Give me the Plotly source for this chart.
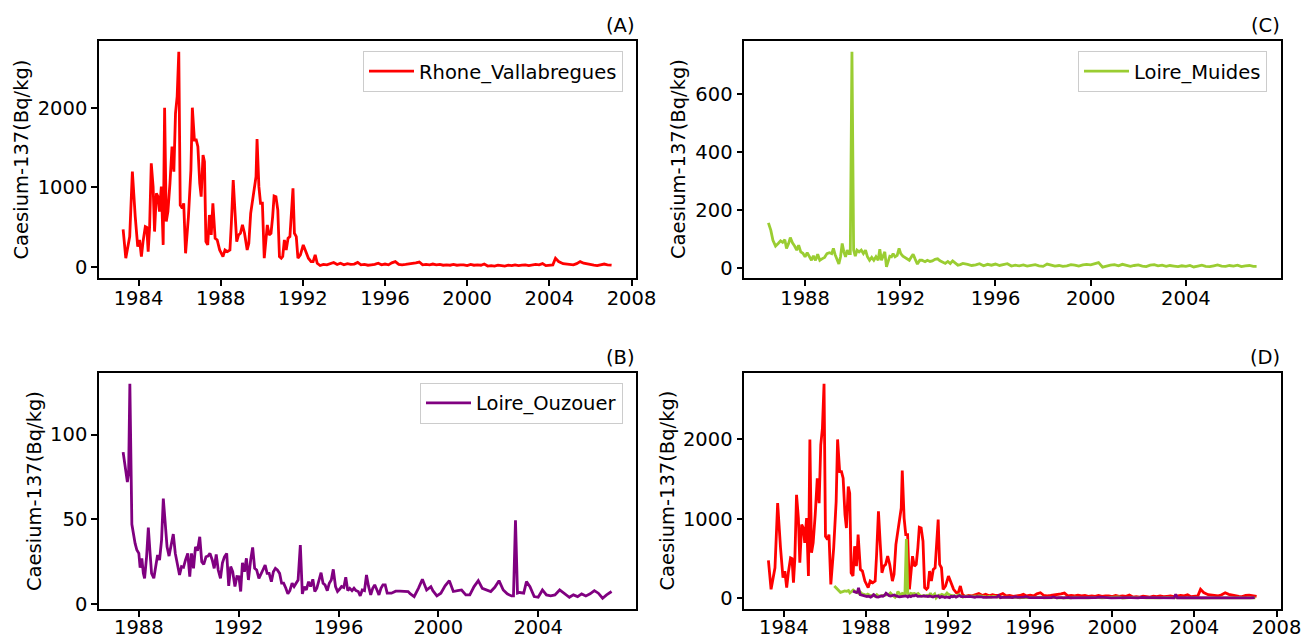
import plotly.graph_objects as go

# ---------------- data ----------------
rhone_t = [1983.25, 1983.38, 1983.57, 1983.70, 1983.84, 1983.96, 1984.05, 1984.14, 1984.22, 1984.33,
           1984.40, 1984.47, 1984.54, 1984.62, 1984.71, 1984.78, 1984.87, 1984.95, 1985.02, 1985.11,
           1985.20, 1985.27, 1985.35, 1985.43, 1985.53, 1985.63, 1985.72, 1985.80, 1985.88, 1985.96,
           1986.03, 1986.13, 1986.20, 1986.29, 1986.43, 1986.55, 1986.62, 1986.72, 1986.81, 1986.89,
           1986.98, 1987.05, 1987.14, 1987.21, 1987.28, 1987.37, 1987.45, 1987.54, 1987.62, 1987.73,
           1987.83, 1987.95, 1988.11, 1988.21, 1988.33, 1988.45, 1988.52, 1988.61, 1988.70, 1988.78,
           1988.87, 1988.96, 1989.06, 1989.16, 1989.29, 1989.37, 1989.46, 1989.56, 1989.65, 1989.72,
           1989.77, 1989.86, 1989.94, 1990.03, 1990.12, 1990.21, 1990.27, 1990.36, 1990.45, 1990.53,
           1990.60, 1990.69, 1990.78, 1990.86, 1990.95, 1991.02, 1991.10, 1991.19, 1991.28, 1991.37,
           1991.45, 1991.52, 1991.59, 1991.68, 1991.76, 1991.88, 1992.02, 1992.14, 1992.27, 1992.40,
           1992.50, 1992.60, 1992.70, 1992.84,
           1993.00, 1993.17, 1993.33, 1993.50, 1993.67, 1993.83,
           1994.00, 1994.17, 1994.33, 1994.50, 1994.67, 1994.83,
           1995.00, 1995.17, 1995.33, 1995.50, 1995.67, 1995.83,
           1996.00, 1996.17, 1996.33, 1996.50, 1996.67, 1996.83,
           1997.00, 1997.17, 1997.33, 1997.50, 1997.67, 1997.83,
           1998.00, 1998.17, 1998.33, 1998.50, 1998.67, 1998.83,
           1999.00, 1999.17, 1999.33, 1999.50, 1999.67, 1999.83,
           2000.00, 2000.17, 2000.33, 2000.50, 2000.67, 2000.83,
           2001.00, 2001.17, 2001.33, 2001.50, 2001.67, 2001.83,
           2002.00, 2002.17, 2002.33, 2002.50, 2002.67, 2002.83,
           2003.00, 2003.17, 2003.33, 2003.50, 2003.67, 2003.83,
           2004.00, 2004.17, 2004.30, 2004.45, 2004.67, 2004.83,
           2005.00, 2005.17, 2005.33, 2005.50, 2005.67, 2005.83,
           2006.00, 2006.17, 2006.33, 2006.50, 2006.67, 2006.83,
           2007.03]
rhone_v = [476, 113, 384, 1198, 635, 259, 342, 134, 321, 509,
           500, 196, 509, 1303, 1010, 447, 927, 885, 697, 1010,
           280, 2000, 572, 697, 1052, 1511, 1198, 1929, 2138, 2701,
           780, 739, 801, 175, 635, 1219, 2000, 1595, 1595, 1511,
           1052, 885, 1407, 1324, 321, 280, 655, 405, 802, 363,
           342, 217, 134, 217, 196, 217, 551, 1094, 676, 321,
           405, 426, 530, 426, 217, 301, 676, 864, 990, 1136,
           1607, 1010, 802, 802, 113, 384, 530, 405, 426, 635,
           894, 885, 718, 134, 113, 134, 342, 217, 363, 384,
           802, 990, 426, 384, 113, 155, 280, 196, 113, 71,
           71, 155, 50, 21,
           35, 30, 45, 60, 35, 50,
           30, 45, 35, 40, 60, 30,
           35, 25, 30, 35, 50, 30,
           40, 30, 55, 70, 35, 30,
           35, 40, 45, 55, 65, 30,
           35, 30, 40, 30, 35, 25,
           30, 25, 35, 25, 30, 30,
           20, 35, 25, 30, 25, 40,
           15, 20, 15, 25, 20, 15,
           25, 20, 30, 20, 25, 30,
           20, 25, 35, 30, 45, 20,
           25, 30, 112, 72, 45, 40,
           35, 30, 45, 70, 50, 40,
           30, 25, 20, 35, 40, 30,
           25]

muides_t = [1986.46, 1986.56, 1986.65, 1986.76, 1986.87, 1986.97, 1987.06, 1987.15, 1987.22, 1987.30,
            1987.38, 1987.47, 1987.56, 1987.65, 1987.73, 1987.82, 1987.91, 1988.00, 1988.09, 1988.18,
            1988.27, 1988.35, 1988.44, 1988.53, 1988.62, 1988.71, 1988.82, 1988.92, 1989.02, 1989.12,
            1989.19, 1989.26, 1989.35, 1989.42, 1989.49, 1989.56, 1989.63, 1989.70, 1989.77, 1989.84,
            1989.90, 1989.97, 1990.04, 1990.11, 1990.18, 1990.27, 1990.36, 1990.45, 1990.54, 1990.62,
            1990.71, 1990.80, 1990.89, 1990.98, 1991.07, 1991.14, 1991.21, 1991.28, 1991.35, 1991.42,
            1991.49, 1991.56, 1991.63, 1991.70, 1991.78, 1991.87, 1991.95, 1992.02, 1992.11, 1992.20,
            1992.29, 1992.38, 1992.47, 1992.54, 1992.63, 1992.72, 1992.82, 1992.91, 1993.04, 1993.14,
            1993.25, 1993.35, 1993.46, 1993.57, 1993.67, 1993.78, 1993.89, 1994.00, 1994.10, 1994.20,
            1994.31, 1994.42, 1994.52, 1994.63, 1994.83,
            1995.00, 1995.17, 1995.33, 1995.50, 1995.67, 1995.83,
            1996.00, 1996.17, 1996.33, 1996.50, 1996.67, 1996.83,
            1997.00, 1997.17, 1997.33, 1997.50, 1997.67, 1997.83,
            1998.00, 1998.17, 1998.33, 1998.50, 1998.67, 1998.83,
            1999.00, 1999.17, 1999.33, 1999.50, 1999.67, 1999.83,
            2000.00, 2000.17, 2000.33, 2000.50, 2000.67, 2000.83,
            2001.00, 2001.17, 2001.33, 2001.50, 2001.67, 2001.83,
            2002.00, 2002.17, 2002.33, 2002.50, 2002.67, 2002.83,
            2003.00, 2003.17, 2003.33, 2003.50, 2003.67, 2003.83,
            2004.00, 2004.17, 2004.33, 2004.50, 2004.67, 2004.83,
            2005.00, 2005.17, 2005.33, 2005.50, 2005.67, 2005.83,
            2006.00, 2006.17, 2006.33, 2006.50, 2006.67, 2006.83,
            2006.97]
muides_v = [155, 130, 95, 75, 84, 93, 88, 97, 67, 82,
            104, 86, 75, 61, 78, 55, 50, 38, 52, 38,
            26, 41, 26, 47, 26, 31, 36, 49, 52, 49,
            67, 46, 26, 13, 38, 84, 55, 38, 61, 49,
            49, 745, 61, 40, 61, 55, 61, 49, 61, 38,
            26, 36, 26, 38, 26, 64, 26, 38, 55, 3,
            26, 40, 38, 49, 38, 43, 67, 49, 40, 36,
            32, 26, 38, 47, 29, 13, 26, 26, 21, 26,
            22, 24, 29, 31, 24, 20, 15, 22, 15, 24,
            17, 9, 11, 15, 12,
            8, 10, 14, 7, 12, 9,
            13, 8, 11, 14, 6, 9,
            7, 10, 6, 8, 11, 7,
            5, 13, 9, 6, 8, 5,
            7, 11, 9, 6, 10, 12,
            10, 14, 18, 2, 6, 9,
            11, 7, 12, 9, 5, 8,
            10, 6, 4, 9, 11, 7,
            9, 5, 8, 6, 4, 7,
            5, 8, 3, 6, 9, 5,
            4, 7, 10, 6, 5, 8,
            6, 9, 4, 7, 8, 5,
            5]

ouzouer_t = [1987.37, 1987.45, 1987.54, 1987.59, 1987.64, 1987.72, 1987.78, 1987.85, 1987.92, 1988.00,
             1988.05, 1988.12, 1988.18, 1988.23, 1988.31, 1988.38, 1988.45, 1988.51, 1988.60, 1988.68,
             1988.75, 1988.83, 1988.91, 1988.98, 1989.04, 1989.13, 1989.21, 1989.29, 1989.38, 1989.46,
             1989.54, 1989.63, 1989.71, 1989.79, 1989.87, 1989.96, 1990.04, 1990.11, 1990.19, 1990.27,
             1990.35, 1990.44, 1990.52, 1990.60, 1990.69, 1990.77, 1990.85, 1990.94, 1991.02, 1991.10,
             1991.18, 1991.27, 1991.35, 1991.43, 1991.52, 1991.60, 1991.68, 1991.76, 1991.85, 1991.93,
             1992.01, 1992.08, 1992.15, 1992.23, 1992.31, 1992.39, 1992.48, 1992.56, 1992.64, 1992.72,
             1992.81, 1992.89, 1992.97, 1993.06, 1993.14, 1993.22, 1993.31, 1993.39, 1993.47, 1993.55,
             1993.64, 1993.72, 1993.80, 1993.89, 1993.97, 1994.05, 1994.14, 1994.22, 1994.30, 1994.38,
             1994.47, 1994.55, 1994.63, 1994.71, 1994.80, 1994.88, 1994.97, 1995.05, 1995.13, 1995.21,
             1995.30, 1995.38, 1995.46, 1995.55, 1995.63, 1995.71, 1995.79, 1995.88, 1995.96, 1996.04,
             1996.12, 1996.21, 1996.29, 1996.37, 1996.45, 1996.54, 1996.62, 1996.70, 1996.79, 1996.87,
             1996.95, 1997.04, 1997.12, 1997.20, 1997.29, 1997.37, 1997.45, 1997.54, 1997.62, 1997.70,
             1997.78, 1997.87, 1997.95, 1998.12, 1998.29, 1998.46, 1998.62, 1998.79, 1998.87, 1999.03,
             1999.20, 1999.36, 1999.53, 1999.70, 1999.78, 1999.94, 2000.10, 2000.27, 2000.44, 2000.60,
             2000.77, 2000.93, 2001.10, 2001.26, 2001.43, 2001.60, 2001.76, 2001.93, 2002.10, 2002.26,
             2002.43, 2002.60, 2002.76, 2002.93, 2003.01, 2003.09, 2003.17, 2003.26, 2003.42, 2003.53,
             2003.67, 2003.84, 2004.00, 2004.17, 2004.33, 2004.50, 2004.67, 2004.86, 2005.03, 2005.25,
             2005.41, 2005.58, 2005.74, 2005.91, 2006.08, 2006.25, 2006.41, 2006.58, 2006.74, 2006.94]
ouzouer_v = [89.6, 79.8, 72.0, 77.0, 130.0, 47.0, 41.6, 35.7, 31.8, 29.8,
             21.4, 26.9, 18.0, 15.1, 27.8, 45.0, 29.8, 18.0, 15.1, 23.5,
             28.8, 25.9, 37.6, 62.2, 49.4, 33.7, 28.2, 33.7, 41.2, 29.8,
             23.9, 17.1, 22.0, 21.6, 25.9, 29.8, 16.1, 29.8, 21.0, 33.7,
             31.4, 39.6, 24.9, 23.3, 27.8, 28.2, 29.8, 25.9, 21.0, 29.2,
             20.0, 15.1, 24.3, 27.8, 29.8, 10.6, 22.0, 19.0, 10.2, 16.1,
             16.0, 7.3, 24.3, 19.0, 26.9, 14.1, 25.9, 33.3, 21.0, 20.0,
             15.1, 18.0, 20.0, 22.9, 18.0, 18.0, 13.1, 19.0, 21.0, 20.0,
             18.0, 12.2, 12.2, 9.2, 5.9, 7.8, 12.2, 10.2, 12.2, 14.1,
             34.7, 5.9, 10.2, 8.2, 13.1, 10.2, 14.5, 7.3, 9.2, 14.1,
             18.4, 12.2, 11.2, 7.8, 12.2, 14.1, 20.4, 10.2, 7.3, 8.6,
             10.2, 9.6, 15.7, 7.8, 9.2, 7.8, 9.2, 7.8, 7.3, 4.7,
             8.2, 7.8, 17.1, 10.6, 5.3, 9.2, 11.2, 8.2, 5.3, 9.2,
             11.2, 11.2, 6.3, 6.3, 7.5, 7.5, 7.3, 7.3, 6.0, 4.3,
             9.2, 14.5, 8.2, 10.2, 7.8, 4.7, 6.3, 10.6, 13.7, 7.3,
             7.8, 8.2, 5.3, 5.3, 10.2, 13.7, 9.2, 8.2, 7.3, 9.8,
             13.7, 8.2, 5.9, 4.7, 4.7, 49.4, 6.3, 6.7, 6.3, 13.1,
             10.2, 4.3, 3.9, 8.2, 5.3, 4.7, 5.3, 8.2, 6.3, 3.9,
             5.3, 4.3, 5.9, 4.7, 5.9, 7.8, 6.3, 3.3, 5.3, 7.3]

series_names = ["Rhone_Vallabregues", "Loire_Muides", "Loire_Ouzouer"]
panel_labels = ["(A)", "(C)", "(B)", "(D)"]
y_title = "Caesium-137(Bq/kg)"
xticks_AD = [1984, 1988, 1992, 1996, 2000, 2004, 2008]
xticks_BC = [1988, 1992, 1996, 2000, 2004]
yticks_A = [0, 1000, 2000]
yticks_C = [0, 200, 400, 600]
yticks_B = [0, 50, 100]

# ---------------- style ----------------
W, H = 1313, 639
FONT = "DejaVu Sans"
FS = 19.5
RED, GREEN, PURPLE = "#ff0000", "#9acd32", "#800080"
LW = 2.8


def px_x(p):
    return p / W


def px_y(p):
    return (H - p) / H


def pad_range(lo, hi):
    d = (hi - lo) * 0.05
    return [lo - d, hi + d]


xdomL = [px_x(98.7), px_x(636)]
xdomR = [px_x(744), px_x(1281)]
ydomT = [px_y(278), px_y(41)]
ydomB = [px_y(609), px_y(373)]

fig = go.Figure()

fig.add_trace(go.Scatter(x=rhone_t, y=rhone_v, mode="lines", name=series_names[0],
                         line=dict(color=RED, width=LW), xaxis="x", yaxis="y", legend="legend"))
fig.add_trace(go.Scatter(x=muides_t, y=muides_v, mode="lines", name=series_names[1],
                         line=dict(color=GREEN, width=LW), xaxis="x2", yaxis="y2", legend="legend2"))
fig.add_trace(go.Scatter(x=ouzouer_t, y=ouzouer_v, mode="lines", name=series_names[2],
                         line=dict(color=PURPLE, width=LW), xaxis="x3", yaxis="y3", legend="legend3"))
fig.add_trace(go.Scatter(x=rhone_t, y=rhone_v, mode="lines", showlegend=False,
                         line=dict(color=RED, width=LW), xaxis="x4", yaxis="y4"))
fig.add_trace(go.Scatter(x=muides_t, y=muides_v, mode="lines", showlegend=False,
                         line=dict(color=GREEN, width=LW), xaxis="x4", yaxis="y4"))
fig.add_trace(go.Scatter(x=ouzouer_t, y=ouzouer_v, mode="lines", showlegend=False,
                         line=dict(color=PURPLE, width=LW), xaxis="x4", yaxis="y4"))

axis_common = dict(showline=True, mirror=True, linecolor="black", linewidth=2,
                   showgrid=False, zeroline=False, ticks="outside", ticklen=5.5,
                   tickwidth=1.5, tickcolor="black", tickformat="d",
                   tickfont=dict(family=FONT, size=FS, color="black"))
xtop_extra = dict(ticklabelstandoff=-4)
xbot_extra = dict(ticklabelstandoff=-6)

rangeA_x = pad_range(min(rhone_t), max(rhone_t))
rangeA_y = pad_range(0, max(rhone_v))
rangeC_x = pad_range(min(muides_t), max(muides_t))
rangeC_y = pad_range(min(muides_v), max(muides_v))
rangeB_x = pad_range(min(ouzouer_t), max(ouzouer_t))
rangeB_y = pad_range(min(ouzouer_v), max(ouzouer_v))

fig.update_layout(
    width=W, height=H,
    margin=dict(l=0, r=0, t=0, b=0, autoexpand=False),
    paper_bgcolor="white", plot_bgcolor="white",
    font=dict(family=FONT, size=FS, color="black"),
    xaxis=dict(domain=xdomL, anchor="y", range=rangeA_x, tickvals=xticks_AD, **axis_common, **xtop_extra),
    yaxis=dict(domain=ydomT, anchor="x", range=rangeA_y, tickvals=yticks_A, **axis_common),
    xaxis2=dict(domain=xdomR, anchor="y2", range=rangeC_x, tickvals=xticks_BC, **axis_common, **xtop_extra),
    yaxis2=dict(domain=ydomT, anchor="x2", range=rangeC_y, tickvals=yticks_C, **axis_common),
    xaxis3=dict(domain=xdomL, anchor="y3", range=rangeB_x, tickvals=xticks_BC, **axis_common, **xbot_extra),
    yaxis3=dict(domain=ydomB, anchor="x3", range=rangeB_y, tickvals=yticks_B, **axis_common),
    xaxis4=dict(domain=xdomR, anchor="y4", range=rangeA_x, tickvals=xticks_AD, **axis_common, **xbot_extra),
    yaxis4=dict(domain=ydomB, anchor="x4", range=rangeA_y, tickvals=yticks_A, **axis_common),
)

legend_style = dict(bgcolor="rgba(255,255,255,0.8)", bordercolor="#cccccc", borderwidth=1,
                    font=dict(family=FONT, size=FS, color="black"),
                    xanchor="right", yanchor="top", itemwidth=45)
fig.update_layout(
    legend=dict(x=px_x(623), y=px_y(51), **legend_style),
    legend2=dict(x=px_x(1267), y=px_y(51), **legend_style),
    legend3=dict(x=px_x(623), y=px_y(382.7), **legend_style),
)

annotations = []
for lab, xr, ytop in [(panel_labels[0], 636, 41), (panel_labels[1], 1281, 41),
                      (panel_labels[2], 636, 373), (panel_labels[3], 1281, 373)]:
    annotations.append(dict(text=lab, x=px_x(xr + 1), y=px_y(ytop - 16), xref="paper", yref="paper",
                            xanchor="right", yanchor="middle", showarrow=False,
                            font=dict(family=FONT, size=FS, color="black")))
for xc, ymid in [(21, 159.5), (678.5, 159.5), (34, 491), (666.5, 491)]:
    annotations.append(dict(text=y_title, x=px_x(xc), y=px_y(ymid), xref="paper", yref="paper",
                            xanchor="center", yanchor="middle", textangle=-90, showarrow=False,
                            font=dict(family=FONT, size=FS, color="black")))
fig.update_layout(annotations=annotations)

fig.write_html("out.html")
